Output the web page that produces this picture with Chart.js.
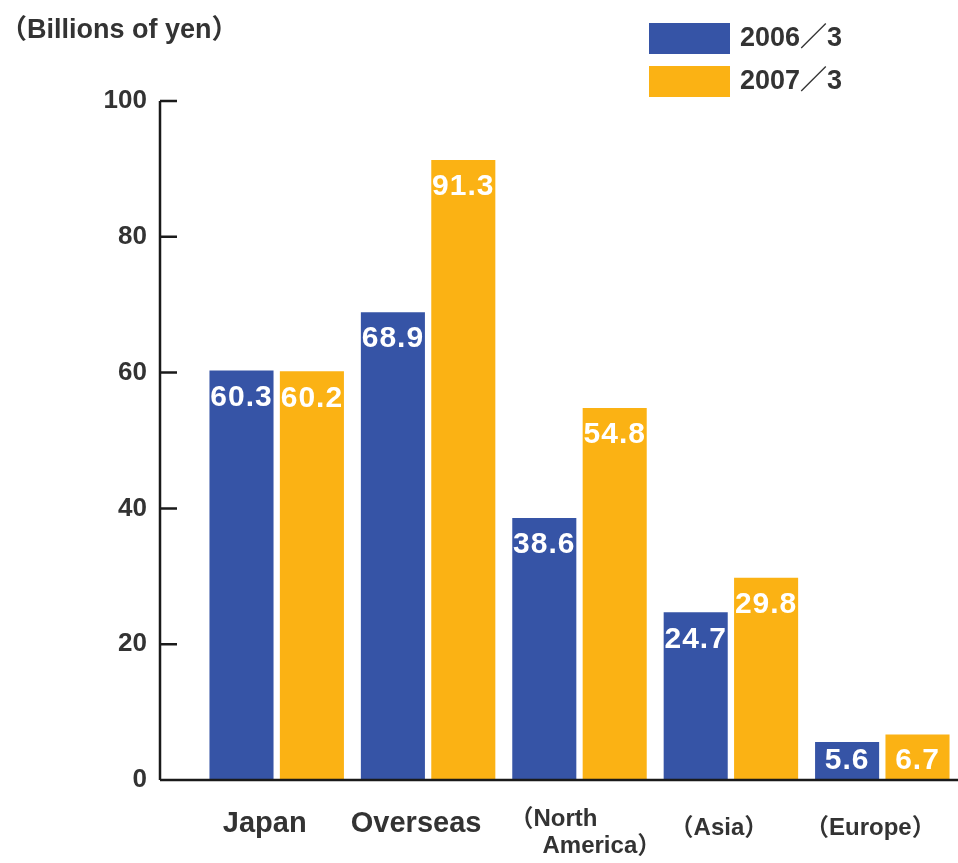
<!DOCTYPE html>
<html>
<head>
<meta charset="utf-8">
<script src="https://cdn.jsdelivr.net/npm/chart.js@4.4.0/dist/chart.umd.min.js"></script>
<style>
  html, body { margin: 0; padding: 0; background: #fff; }
  #wrap { width: 958px; height: 863px; position: relative; }
</style>
</head>
<body>
<div id="wrap"><canvas id="myChart"></canvas></div>
<script>
const ctx = document.getElementById('myChart');

// data
const categories = ['Japan', 'Overseas', ['（North', 'America）'], '（Asia）', '（Europe）'];
const seriesNames = ['2006／3', '2007／3'];
const values2006 = [60.3, 68.9, 38.6, 24.7, 5.6];
const values2007 = [60.2, 91.3, 54.8, 29.8, 6.7];
const yTicks = [0, 20, 40, 60, 80, 100];
const unitLabel = '（Billions of yen）';

const BLUE = '#3654a6';
const ORANGE = '#fbb214';
const INK = '#333333';
const FONT = '"Liberation Sans", Arial, "Noto Sans CJK JP", sans-serif';

// white value labels inside the bars
const valueLabels = {
  id: 'valueLabels',
  afterDatasetsDraw(chart) {
    const c = chart.ctx;
    c.save();
    c.fillStyle = '#fff';
    c.font = 'bold 30px ' + FONT;
    c.textAlign = 'center';
    c.textBaseline = 'middle';
    if ('letterSpacing' in c) c.letterSpacing = '1px';
    chart.data.datasets.forEach((ds, i) => {
      chart.getDatasetMeta(i).data.forEach((bar, j) => {
        const y = Math.min(bar.y + 27, bar.base - 19);
        c.fillText(ds.data[j].toFixed(1), bar.x, y);
      });
    });
    c.restore();
  }
};

// axis lines, tick marks, category names, unit label and legend
const decorations = {
  id: 'decorations',
  afterDatasetsDraw(chart) {
    const c = chart.ctx;
    const y = chart.scales.y;
    const x = chart.scales.x;
    const ax = chart.chartArea.left - 41;
    const y0 = y.getPixelForValue(0);
    const yTop = y.getPixelForValue(100);
    c.save();
    c.strokeStyle = '#1a1a1a';
    c.lineWidth = 2.5;
    c.beginPath();
    c.moveTo(ax, yTop);
    c.lineTo(ax, y0);
    c.moveTo(ax, y0);
    c.lineTo(chart.width, y0);
    yTicks.filter(v => v > 0).forEach(v => {
      const py = y.getPixelForValue(v);
      c.moveTo(ax, py);
      c.lineTo(ax + 17, py);
    });
    c.stroke();

    c.fillStyle = INK;
    c.textBaseline = 'middle';
    categories.forEach((label, i) => {
      const cx = x.getPixelForValue(i);
      if (Array.isArray(label)) {
        c.font = 'bold 24px ' + FONT;
        c.textAlign = 'left';
        c.fillText(label[0], cx - 70, y0 + 39);
        c.fillText(label[1], cx - 37, y0 + 66);
      } else {
        c.textAlign = 'center';
        c.font = (i < 2 ? 'bold 29px ' : 'bold 24px ') + FONT;
        c.fillText(label, cx - 12, y0 + (i < 2 ? 44 : 48));
      }
    });

    c.textAlign = 'left';
    c.font = 'bold 27px ' + FONT;
    c.fillText(unitLabel, 0, 31);

    const colors = [BLUE, ORANGE];
    seriesNames.forEach((name, i) => {
      const top = 23 + i * 43;
      c.fillStyle = colors[i];
      c.fillRect(649, top, 81, 31);
      c.fillStyle = INK;
      c.font = 'bold 27px ' + FONT;
      c.fillText(name, 740, top + 16);
    });
    c.restore();
  }
};

new Chart(ctx, {
  type: 'bar',
  data: {
    labels: categories,
    datasets: [
      { label: seriesNames[0], data: values2006, backgroundColor: BLUE },
      { label: seriesNames[1], data: values2007, backgroundColor: ORANGE }
    ]
  },
  options: {
    responsive: true,
    maintainAspectRatio: false,
    animation: false,
    layout: { padding: { top: 101, right: 0, left: 0, bottom: 0 } },
    categoryPercentage: 0.93,
    barPercentage: 0.91,
    plugins: {
      legend: { display: false },
      tooltip: { enabled: false }
    },
    scales: {
      x: {
        grid: { display: false, drawTicks: false },
        border: { display: false },
        ticks: { display: false },
        afterFit: s => { s.height = 83; s.paddingLeft = 0; s.paddingRight = 0; }
      },
      y: {
        min: 0,
        max: 100,
        grid: { display: false, drawTicks: false },
        border: { display: false },
        afterFit: s => { s.width = 201; s.paddingTop = 0; s.paddingBottom = 0; },
        afterBuildTicks: s => { s.ticks = yTicks.map(v => ({ value: v })); },
        ticks: {
          color: INK,
          padding: 54,
          font: { family: FONT, size: 26, weight: 'bold' }
        }
      }
    }
  },
  plugins: [valueLabels, decorations]
});
</script>
</body>
</html>
